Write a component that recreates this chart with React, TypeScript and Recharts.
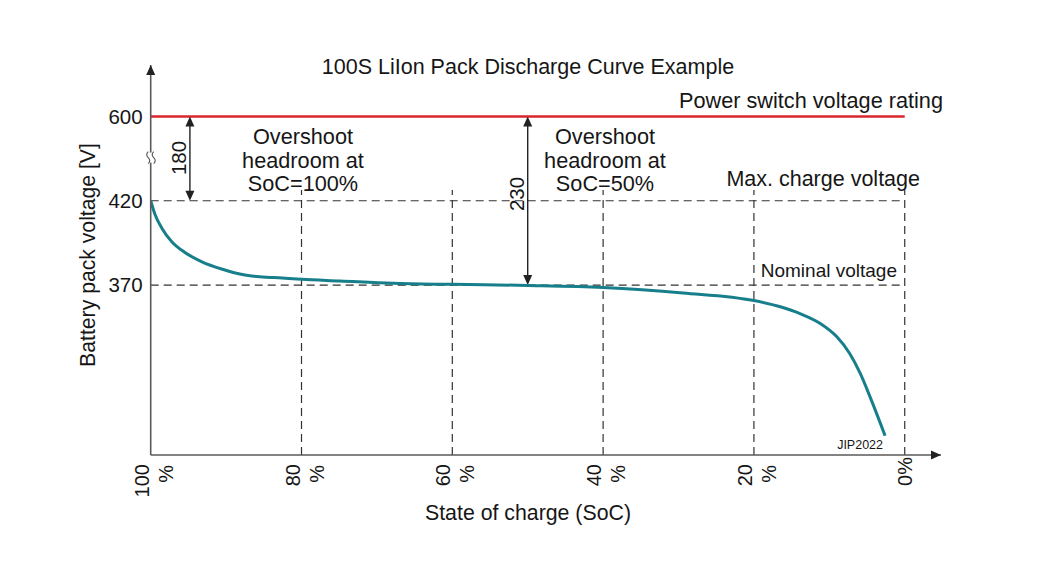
import React from 'react';
import { ComposedChart, Line, XAxis, YAxis, ReferenceLine, ReferenceDot } from 'recharts';

// State of charge [%] and pack voltage [V]
const socValues = [100, 99.4, 98.5, 97.2, 95.5, 93.2, 90.6, 87.5, 83.7, 80, 74.9, 67.9, 60, 50, 40, 29.4, 20, 16.5, 13.9, 11.2, 9.0, 7.3, 5.9, 4.6, 2.6];
const voltValues = [420, 411.5, 403.6, 395.7, 389.4, 383.8, 379.5, 375.9, 374.4, 373.4, 372.4, 371, 370.4, 369.8, 368.6, 365.3, 360.8, 357.1, 353.1, 347.2, 339.3, 329.4, 317.6, 303.7, 280.6];

const xTicks = [100, 80, 60, 40, 20, 0];
const xTickLabels = ['100|%', '80|%', '60|%', '40|%', '20|%', '0%'];
const yTickVolts = [370, 420, 600];
const gridSoc = [80, 60, 40, 20, 0];

const ratingVolt = 600;
const maxChargeVolt = 420;
const nominalVolt = 370;
const headroom100Soc = 94.8;
const headroom50Soc = 50;

// broken axis: above 420 V, 180 V are compressed into the height of 50 V
const BREAK = 420;
const toAxis = (v: number) => (v <= BREAK ? v : BREAK + ((v - BREAK) * 50) / 180);
const fromAxis = (a: number) => (a <= BREAK ? a : BREAK + ((a - BREAK) * 180) / 50);

const data = socValues.map((s, i) => ({ soc: s, v: toAxis(voltValues[i]) }));

const Y_MIN = 269.2;
const Y_MAX = 500.5;
const X_MIN = -4.81;
const GRID_TOP = 426.3;

const TEAL = '#177f8b';
const RED = '#d9262c';
const INK = '#161616';
const AXIS = '#5a5a5a';
const FONT = '"Liberation Sans", Arial, Helvetica, sans-serif';

const XTick = (props: any) => {
  const { x, y, payload } = props;
  const idx = xTicks.indexOf(payload.value);
  const label = xTickLabels[idx] ?? String(payload.value);
  const parts = label.split('|');
  return (
    <g transform={`translate(${x},${y})`}>
      <text transform="rotate(-90)" textAnchor="end" fontSize={20} fill={INK} fontFamily={FONT}>
        {parts.length === 2 ? (
          <>
            <tspan x={-9} y={-2}>{parts[0]}</tspan>
            <tspan x={-10} y={22}>{parts[1]}</tspan>
          </>
        ) : (
          <tspan x={-2} y={7.5}>{parts[0]}</tspan>
        )}
      </text>
    </g>
  );
};

const DoubleArrow = (props: any) => {
  const { x1, y1, x2, y2 } = props;
  const top = Math.min(y1, y2);
  const bot = Math.max(y1, y2);
  const L = 10;
  const W = 4.5;
  return (
    <g>
      <line x1={x1} y1={top + L - 1} x2={x2} y2={bot - L + 1} stroke="#222" strokeWidth={1.4} />
      <polygon points={`${x1},${top} ${x1 - W},${top + L} ${x1 + W},${top + L}`} fill="#222" />
      <polygon points={`${x1},${bot} ${x1 - W},${bot - L} ${x1 + W},${bot - L}`} fill="#222" />
    </g>
  );
};

const UpArrowHead = (props: any) => {
  const { cx, cy } = props;
  return <polygon points={`${cx},${cy} ${cx - 4.5},${cy + 10} ${cx + 4.5},${cy + 10}`} fill="#222" />;
};

const RightArrowHead = (props: any) => {
  const { cx, cy } = props;
  return <polygon points={`${cx},${cy} ${cx - 10},${cy - 4.5} ${cx - 10},${cy + 4.5}`} fill="#222" />;
};

const BreakMark = (props: any) => {
  const { cx, cy } = props;
  const d = (ox: number) => `M${cx + ox},${cy - 6} q-3,3 0,6 q3,3 0,6`;
  return (
    <g>
      <rect x={cx - 1.5} y={cy - 5} width={3} height={10} fill="#fff" />
      <path d={d(-2.5)} stroke="#555" strokeWidth={1.1} fill="none" />
      <path d={d(3)} stroke="#555" strokeWidth={1.1} fill="none" />
    </g>
  );
};

const T = (p: any) => (
  <text fontFamily={FONT} fill={INK} {...p}>
    {p.children}
  </text>
);

export default function App() {
  return (
    <div style={{ position: 'absolute', left: 0, top: 0, width: 1057, height: 569, background: '#fff' }}>
      <ComposedChart
        width={1057}
        height={569}
        data={data}
        margin={{ top: 65, right: 116, bottom: 84, left: 0 }}
        style={{ fontFamily: FONT }}
      >
        <XAxis
          type="number"
          dataKey="soc"
          domain={[X_MIN, 100]}
          reversed
          allowDataOverflow
          ticks={xTicks}
          interval={0}
          height={30}
          tickLine={false}
          tickSize={0}
          tickMargin={0}
          axisLine={{ stroke: AXIS, strokeWidth: 1.6 }}
          tick={<XTick />}
        />
        <YAxis
          type="number"
          domain={[Y_MIN, Y_MAX]}
          allowDataOverflow
          ticks={yTickVolts.map(toAxis)}
          tickFormatter={(a: number) => String(Math.round(fromAxis(a)))}
          width={150.7}
          tickLine={false}
          tickSize={0}
          tickMargin={8}
          axisLine={{ stroke: AXIS, strokeWidth: 1.6 }}
          tick={{ fontSize: 20.5, fill: INK, fontFamily: FONT }}
        />

        {gridSoc.map((s) => (
          <ReferenceLine
            key={`g${s}`}
            segment={[{ x: s, y: Y_MIN }, { x: s, y: GRID_TOP }]}
            stroke="#333"
            strokeWidth={1.2}
            strokeDasharray="8 5"
            ifOverflow="visible"
          />
        ))}
        <ReferenceLine
          segment={[{ x: 100, y: toAxis(maxChargeVolt) }, { x: 0, y: toAxis(maxChargeVolt) }]}
          stroke="#333"
          strokeWidth={1.2}
          strokeDasharray="8 5"
          ifOverflow="visible"
        />
        <ReferenceLine
          segment={[{ x: 100, y: toAxis(nominalVolt) }, { x: 0, y: toAxis(nominalVolt) }]}
          stroke="#333"
          strokeWidth={1.2}
          strokeDasharray="8 5"
          ifOverflow="visible"
        />
        <ReferenceLine
          segment={[{ x: 100, y: toAxis(ratingVolt) }, { x: 0, y: toAxis(ratingVolt) }]}
          stroke={RED}
          strokeWidth={2.6}
          ifOverflow="visible"
        />
        <ReferenceLine
          segment={[{ x: headroom100Soc, y: toAxis(maxChargeVolt) }, { x: headroom100Soc, y: toAxis(ratingVolt) }]}
          shape={DoubleArrow}
          ifOverflow="visible"
        />
        <ReferenceLine
          segment={[{ x: headroom50Soc, y: toAxis(nominalVolt) }, { x: headroom50Soc, y: toAxis(ratingVolt) }]}
          shape={DoubleArrow}
          ifOverflow="visible"
        />
        <ReferenceDot x={100} y={Y_MAX} r={0} shape={UpArrowHead} ifOverflow="visible" />
        <ReferenceDot x={X_MIN} y={Y_MIN} r={0} shape={RightArrowHead} ifOverflow="visible" />
        <ReferenceDot x={100} y={(toAxis(ratingVolt) + toAxis(maxChargeVolt)) / 2 + 0.6} r={0} shape={BreakMark} ifOverflow="visible" />

        <Line
          type="monotone"
          dataKey="v"
          stroke={TEAL}
          strokeWidth={3}
          dot={false}
          activeDot={false}
          isAnimationActive={false}
        />

        <T x={528} y={74} fontSize={21.5} textAnchor="middle">100S LiIon Pack Discharge Curve Example</T>
        <T x={943} y={108} fontSize={21.7} textAnchor="end">Power switch voltage rating</T>
        <T x={920} y={186} fontSize={21.5} textAnchor="end">Max. charge voltage</T>
        <T x={897} y={277} fontSize={19} textAnchor="end">Nominal voltage</T>
        <T x={883} y={449} fontSize={12.5} textAnchor="end">JIP2022</T>
        <T x={303} fontSize={21.7} textAnchor="middle">
          <tspan x={303} y={144}>Overshoot</tspan>
          <tspan x={303} y={167.5}>headroom at</tspan>
          <tspan x={303} y={191}>SoC=100%</tspan>
        </T>
        <T x={605} fontSize={21.7} textAnchor="middle">
          <tspan x={605} y={144}>Overshoot</tspan>
          <tspan x={605} y={167.5}>headroom at</tspan>
          <tspan x={605} y={191}>SoC=50%</tspan>
        </T>
        <T fontSize={20.5} textAnchor="middle" transform="translate(185.5,158) rotate(-90)" x={0} y={0}>180</T>
        <T fontSize={20.5} textAnchor="middle" transform="translate(524,194) rotate(-90)" x={0} y={0}>230</T>
        <T fontSize={21.3} textAnchor="middle" x={528} y={520}>State of charge (SoC)</T>
        <T fontSize={21.2} textAnchor="middle" transform="translate(95,255) rotate(-90)" x={0} y={0}>Battery pack voltage [V]</T>
      </ComposedChart>
    </div>
  );
}
